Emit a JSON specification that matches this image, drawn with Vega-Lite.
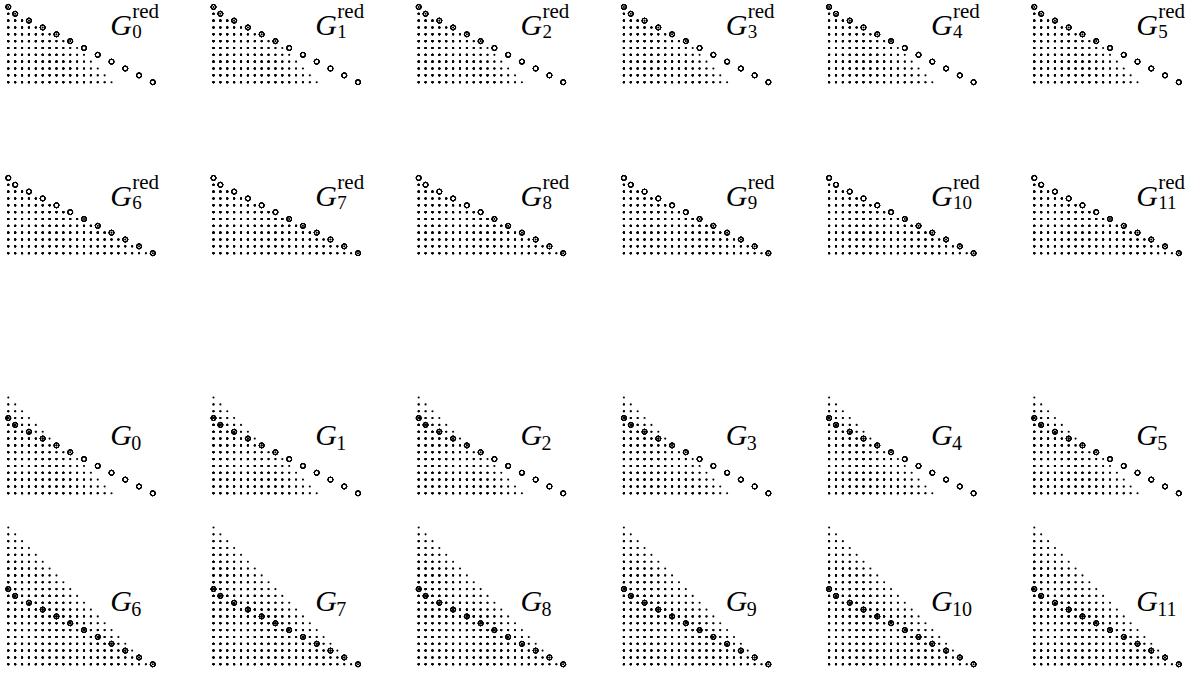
{
"$schema": "https://vega.github.io/schema/vega-lite/v6.json",
"padding": 0,
"background": "white",
"spacing": 0,
"datasets": {
"cols": [
{"n":0,"c":[0]},
{"n":1,"c":[0,1]},
{"n":2,"c":[0,1,2]},
{"n":3,"c":[0,1,2,3]},
{"n":4,"c":[0,1,2,3,4]},
{"n":5,"c":[0,1,2,3,4,5]},
{"n":6,"c":[0,1,2,3,4,5,6]},
{"n":7,"c":[0,1,2,3,4,5,6,7]},
{"n":8,"c":[0,1,2,3,4,5,6,7,8]},
{"n":9,"c":[0,1,2,3,4,5,6,7,8,9]},
{"n":10,"c":[0,1,2,3,4,5,6,7,8,9,10]},
{"n":11,"c":[0,1,2,3,4,5,6,7,8,9,10,11]},
{"n":12,"c":[0,1,2,3,4,5,6,7,8,9,10,11,12]},
{"n":13,"c":[0,1,2,3,4,5,6,7,8,9,10,11,12,13]},
{"n":14,"c":[0,1,2,3,4,5,6,7,8,9,10,11,12,13,14]},
{"n":15,"c":[0,1,2,3,4,5,6,7,8,9,10,11,12,13,14,15]},
{"n":16,"c":[0,1,2,3,4,5,6,7,8,9,10,11,12,13,14,15,16]},
{"n":17,"c":[0,1,2,3,4,5,6,7,8,9,10,11,12,13,14,15,16,17]},
{"n":18,"c":[0,1,2,3,4,5,6,7,8,9,10,11,12,13,14,15,16,17,18]},
{"n":19,"c":[0,1,2,3,4,5,6,7,8,9,10,11,12,13,14,15,16,17,18,19]},
{"n":20,"c":[0,1,2,3,4,5,6,7,8,9,10,11,12,13,14,15,16,17,18,19,20]},
{"n":21,"c":[0,1,2,3,4,5,6,7,8,9,10,11,12,13,14,15,16,17,18,19,20,21]}
]
},
"data": {"values": [
{"g":"R","k":0,"s":"0","h":[11,10,9,8,7,6,5,4,3,2,1,0],"n":[0,0,2,3,4,5,6,7,8,9,10,11],"cc":[0,1,3,5,7,9,11,13,15,17,19,21],"ch":[11,10,9,8,7,6,5,4,3,2,1,0]},
{"g":"R","k":1,"s":"1","h":[10,9,8,7,6,5,4,3,2,1,0],"n":[1,2,3,4,5,6,7,8,9,10,11],"cc":[0,1,3,5,7,9,11,13,15,17,19,21],"ch":[11,10,9,8,7,6,5,4,3,2,1,0]},
{"g":"R","k":2,"s":"2","h":[10,9,8,7,6,5,4,3,2,1,0],"n":[0,3,4,5,6,7,8,9,10,11,12],"cc":[0,1,3,5,7,9,11,13,15,17,19,21],"ch":[11,10,9,8,7,6,5,4,3,2,1,0]},
{"g":"R","k":3,"s":"3","h":[10,9,8,7,6,5,4,3,2,1,0],"n":[0,2,5,6,7,8,9,10,11,12,13],"cc":[0,1,3,5,7,9,11,13,15,17,19,21],"ch":[11,10,9,8,7,6,5,4,3,2,1,0]},
{"g":"R","k":4,"s":"4","h":[10,9,8,7,6,5,4,3,2,1,0],"n":[0,2,4,7,8,9,10,11,12,13,14],"cc":[0,1,3,5,7,9,11,13,15,17,19,21],"ch":[11,10,9,8,7,6,5,4,3,2,1,0]},
{"g":"R","k":5,"s":"5","h":[10,9,8,7,6,5,4,3,2,1,0],"n":[0,2,4,6,9,10,11,12,13,14,15],"cc":[0,1,3,5,7,9,11,13,15,17,19,21],"ch":[11,10,9,8,7,6,5,4,3,2,1,0]},
{"g":"R","k":6,"s":"6","h":[10,9,8,7,6,5,4,3,2,1,0],"n":[0,2,4,6,8,11,12,13,14,15,16],"cc":[0,1,3,5,7,9,11,13,15,17,19,21],"ch":[11,10,9,8,7,6,5,4,3,2,1,0]},
{"g":"R","k":7,"s":"7","h":[10,9,8,7,6,5,4,3,2,1,0],"n":[0,2,4,6,8,10,13,14,15,16,17],"cc":[0,1,3,5,7,9,11,13,15,17,19,21],"ch":[11,10,9,8,7,6,5,4,3,2,1,0]},
{"g":"R","k":8,"s":"8","h":[10,9,8,7,6,5,4,3,2,1,0],"n":[0,2,4,6,8,10,12,15,16,17,18],"cc":[0,1,3,5,7,9,11,13,15,17,19,21],"ch":[11,10,9,8,7,6,5,4,3,2,1,0]},
{"g":"R","k":9,"s":"9","h":[10,9,8,7,6,5,4,3,2,1,0],"n":[0,2,4,6,8,10,12,14,17,18,19],"cc":[0,1,3,5,7,9,11,13,15,17,19,21],"ch":[11,10,9,8,7,6,5,4,3,2,1,0]},
{"g":"R","k":10,"s":"10","h":[10,9,8,7,6,5,4,3,2,1,0],"n":[0,2,4,6,8,10,12,14,16,19,20],"cc":[0,1,3,5,7,9,11,13,15,17,19,21],"ch":[11,10,9,8,7,6,5,4,3,2,1,0]},
{"g":"R","k":11,"s":"11","h":[10,9,8,7,6,5,4,3,2,1,0],"n":[0,2,4,6,8,10,12,14,16,18,21],"cc":[0,1,3,5,7,9,11,13,15,17,19,21],"ch":[11,10,9,8,7,6,5,4,3,2,1,0]},
{"g":"G","k":0,"s":"0","h":[11,10,9,8,7,6,5,4,3,2,1,0],"n":[0,1,2,3,4,5,6,7,8,9,10,11],"cc":[0,1,3,5,7,9,11,13,15,17,19,21],"ch":[11,10,9,8,7,6,5,4,3,2,1,0]},
{"g":"G","k":1,"s":"1","h":[11,10,9,8,7,6,5,4,3,2,1,0],"n":[0,1,2,3,4,5,6,7,8,9,10,11],"cc":[0,1,3,5,7,9,11,13,15,17,19,21],"ch":[11,10,9,8,7,6,5,4,3,2,1,0]},
{"g":"G","k":2,"s":"2","h":[11,10,9,8,7,6,5,4,3,2,1,0],"n":[0,1,3,4,5,6,7,8,9,10,11,12],"cc":[0,1,3,5,7,9,11,13,15,17,19,21],"ch":[11,10,9,8,7,6,5,4,3,2,1,0]},
{"g":"G","k":3,"s":"3","h":[12,11,10,9,8,7,6,5,4,3,2,1,0],"n":[0,1,2,3,5,6,7,8,9,10,11,12,13],"cc":[0,1,3,5,7,9,11,13,15,17,19,21],"ch":[11,10,9,8,7,6,5,4,3,2,1,0]},
{"g":"G","k":4,"s":"4","h":[13,12,11,10,9,8,7,6,5,4,3,2,1,0],"n":[0,1,2,3,4,5,7,8,9,10,11,12,13,14],"cc":[0,1,3,5,7,9,11,13,15,17,19,21],"ch":[11,10,9,8,7,6,5,4,3,2,1,0]},
{"g":"G","k":5,"s":"5","h":[14,13,12,11,10,9,8,7,6,5,4,3,2,1,0],"n":[0,1,2,3,4,5,6,7,9,10,11,12,13,14,15],"cc":[0,1,3,5,7,9,11,13,15,17,19,21],"ch":[11,10,9,8,7,6,5,4,3,2,1,0]},
{"g":"G","k":6,"s":"6","h":[15,14,13,12,11,10,9,8,7,6,5,4,3,2,1,0],"n":[0,1,2,3,4,5,6,7,8,9,11,12,13,14,15,16],"cc":[0,1,3,5,7,9,11,13,15,17,19,21],"ch":[11,10,9,8,7,6,5,4,3,2,1,0]},
{"g":"G","k":7,"s":"7","h":[16,15,14,13,12,11,10,9,8,7,6,5,4,3,2,1,0],"n":[0,1,2,3,4,5,6,7,8,9,10,11,13,14,15,16,17],"cc":[0,1,3,5,7,9,11,13,15,17,19,21],"ch":[11,10,9,8,7,6,5,4,3,2,1,0]},
{"g":"G","k":8,"s":"8","h":[17,16,15,14,13,12,11,10,9,8,7,6,5,4,3,2,1,0],"n":[0,1,2,3,4,5,6,7,8,9,10,11,12,13,15,16,17,18],"cc":[0,1,3,5,7,9,11,13,15,17,19,21],"ch":[11,10,9,8,7,6,5,4,3,2,1,0]},
{"g":"G","k":9,"s":"9","h":[18,17,16,15,14,13,12,11,10,9,8,7,6,5,4,3,2,1,0],"n":[0,1,2,3,4,5,6,7,8,9,10,11,12,13,14,15,17,18,19],"cc":[0,1,3,5,7,9,11,13,15,17,19,21],"ch":[11,10,9,8,7,6,5,4,3,2,1,0]},
{"g":"G","k":10,"s":"10","h":[19,18,17,16,15,14,13,12,11,10,9,8,7,6,5,4,3,2,1,0],"n":[0,1,2,3,4,5,6,7,8,9,10,11,12,13,14,15,16,17,19,20],"cc":[0,1,3,5,7,9,11,13,15,17,19,21],"ch":[11,10,9,8,7,6,5,4,3,2,1,0]},
{"g":"G","k":11,"s":"11","h":[20,19,18,17,16,15,14,13,12,11,10,9,8,7,6,5,4,3,2,1,0],"n":[0,1,2,3,4,5,6,7,8,9,10,11,12,13,14,15,16,17,18,19,21],"cc":[0,1,3,5,7,9,11,13,15,17,19,21],"ch":[11,10,9,8,7,6,5,4,3,2,1,0]}
]},
"vconcat": [
{
"transform": [{"filter": "datum.g == 'R' && datum.k < 6"}],
"facet": {"column": {"field": "k", "type": "ordinal", "sort": "ascending", "header": {"labels": false, "title": null}}},
"spacing": 37.2,
"bounds": "flush",
"spec": {
"width": 168, "height": 170,
"layer": [
{"transform": [{"flatten": ["h","n"], "as": ["hh","nn"]}, {"lookup": "nn", "from": {"data": {"name": "cols"}, "key": "n", "fields": ["c"]}}, {"flatten": ["c"], "as": ["cx"]}],
"mark": {"type": "point", "shape": "circle", "filled": true, "size": 4.5, "color": "black", "opacity": 1},
"encoding": {"x": {"field": "cx", "type": "quantitative", "scale": {"domain": [-1.206, 23.21], "nice": false, "zero": false}, "axis": null}, "y": {"field": "hh", "type": "quantitative", "scale": {"domain": [-12.98, 11.87], "nice": false, "zero": false}, "axis": null}}},
{"transform": [{"flatten": ["cc","ch"], "as": ["cx","hh"]}],
"mark": {"type": "point", "shape": "circle", "filled": false, "size": 24, "stroke": "black", "strokeWidth": 0.9, "opacity": 1},
"encoding": {"x": {"field": "cx", "type": "quantitative", "axis": null}, "y": {"field": "hh", "type": "quantitative", "axis": null}}},
{"mark": {"type": "text", "text": "G", "font": "Liberation Serif", "fontStyle": "italic", "fontSize": 30, "align": "left", "baseline": "alphabetic", "color": "black"},
"encoding": {"x": {"datum": 14.8, "type": "quantitative", "axis": null}, "y": {"datum": 6.9, "type": "quantitative", "axis": null}}},
{"mark": {"type": "text", "text": "red", "font": "Liberation Serif", "fontSize": 21, "align": "left", "baseline": "alphabetic", "color": "black", "dx": 22, "dy": -17},
"encoding": {"x": {"datum": 14.8, "type": "quantitative", "axis": null}, "y": {"datum": 6.9, "type": "quantitative", "axis": null}}},
{"mark": {"type": "text", "font": "Liberation Serif", "fontSize": 19, "align": "left", "baseline": "alphabetic", "color": "black", "dx": 22, "dy": 3},
"encoding": {"x": {"datum": 14.8, "type": "quantitative", "axis": null}, "y": {"datum": 6.9, "type": "quantitative", "axis": null}, "text": {"field": "s"}}}
]
}
},
{
"transform": [{"filter": "datum.g == 'R' && datum.k >= 6"}],
"facet": {"column": {"field": "k", "type": "ordinal", "sort": "ascending", "header": {"labels": false, "title": null}}},
"spacing": 37.2,
"bounds": "flush",
"spec": {
"width": 168, "height": 170,
"layer": [
{"transform": [{"flatten": ["h","n"], "as": ["hh","nn"]}, {"lookup": "nn", "from": {"data": {"name": "cols"}, "key": "n", "fields": ["c"]}}, {"flatten": ["c"], "as": ["cx"]}],
"mark": {"type": "point", "shape": "circle", "filled": true, "size": 4.5, "color": "black", "opacity": 1},
"encoding": {"x": {"field": "cx", "type": "quantitative", "scale": {"domain": [-1.206, 23.21], "nice": false, "zero": false}, "axis": null}, "y": {"field": "hh", "type": "quantitative", "scale": {"domain": [-12.98, 11.87], "nice": false, "zero": false}, "axis": null}}},
{"transform": [{"flatten": ["cc","ch"], "as": ["cx","hh"]}],
"mark": {"type": "point", "shape": "circle", "filled": false, "size": 24, "stroke": "black", "strokeWidth": 0.9, "opacity": 1},
"encoding": {"x": {"field": "cx", "type": "quantitative", "axis": null}, "y": {"field": "hh", "type": "quantitative", "axis": null}}},
{"mark": {"type": "text", "text": "G", "font": "Liberation Serif", "fontStyle": "italic", "fontSize": 30, "align": "left", "baseline": "alphabetic", "color": "black"},
"encoding": {"x": {"datum": 14.8, "type": "quantitative", "axis": null}, "y": {"datum": 6.9, "type": "quantitative", "axis": null}}},
{"mark": {"type": "text", "text": "red", "font": "Liberation Serif", "fontSize": 21, "align": "left", "baseline": "alphabetic", "color": "black", "dx": 22, "dy": -17},
"encoding": {"x": {"datum": 14.8, "type": "quantitative", "axis": null}, "y": {"datum": 6.9, "type": "quantitative", "axis": null}}},
{"mark": {"type": "text", "font": "Liberation Serif", "fontSize": 19, "align": "left", "baseline": "alphabetic", "color": "black", "dx": 22, "dy": 3},
"encoding": {"x": {"datum": 14.8, "type": "quantitative", "axis": null}, "y": {"datum": 6.9, "type": "quantitative", "axis": null}, "text": {"field": "s"}}}
]
}
},
{
"transform": [{"filter": "datum.g == 'G' && datum.k < 6"}],
"facet": {"column": {"field": "k", "type": "ordinal", "sort": "ascending", "header": {"labels": false, "title": null}}},
"spacing": 37.2,
"bounds": "flush",
"spec": {
"width": 168, "height": 170,
"layer": [
{"transform": [{"flatten": ["h","n"], "as": ["hh","nn"]}, {"lookup": "nn", "from": {"data": {"name": "cols"}, "key": "n", "fields": ["c"]}}, {"flatten": ["c"], "as": ["cx"]}],
"mark": {"type": "point", "shape": "circle", "filled": true, "size": 4.5, "color": "black", "opacity": 1},
"encoding": {"x": {"field": "cx", "type": "quantitative", "scale": {"domain": [-1.206, 23.21], "nice": false, "zero": false}, "axis": null}, "y": {"field": "hh", "type": "quantitative", "scale": {"domain": [-2.734, 22.12], "nice": false, "zero": false}, "axis": null}}},
{"transform": [{"flatten": ["cc","ch"], "as": ["cx","hh"]}],
"mark": {"type": "point", "shape": "circle", "filled": false, "size": 24, "stroke": "black", "strokeWidth": 0.9, "opacity": 1},
"encoding": {"x": {"field": "cx", "type": "quantitative", "axis": null}, "y": {"field": "hh", "type": "quantitative", "axis": null}}},
{"mark": {"type": "text", "text": "G", "font": "Liberation Serif", "fontStyle": "italic", "fontSize": 30, "align": "left", "baseline": "alphabetic", "color": "black"},
"encoding": {"x": {"datum": 14.8, "type": "quantitative", "axis": null}, "y": {"datum": 7.1, "type": "quantitative", "axis": null}}},
{"mark": {"type": "text", "font": "Liberation Serif", "fontSize": 20, "align": "left", "baseline": "alphabetic", "color": "black", "dx": 21, "dy": 5},
"encoding": {"x": {"datum": 14.8, "type": "quantitative", "axis": null}, "y": {"datum": 7.1, "type": "quantitative", "axis": null}, "text": {"field": "s"}}}
]
}
},
{
"transform": [{"filter": "datum.g == 'G' && datum.k >= 6"}],
"facet": {"column": {"field": "k", "type": "ordinal", "sort": "ascending", "header": {"labels": false, "title": null}}},
"spacing": 37.2,
"bounds": "flush",
"spec": {
"width": 168, "height": 163,
"layer": [
{"transform": [{"flatten": ["h","n"], "as": ["hh","nn"]}, {"lookup": "nn", "from": {"data": {"name": "cols"}, "key": "n", "fields": ["c"]}}, {"flatten": ["c"], "as": ["cx"]}],
"mark": {"type": "point", "shape": "circle", "filled": true, "size": 4.5, "color": "black", "opacity": 1},
"encoding": {"x": {"field": "cx", "type": "quantitative", "scale": {"domain": [-1.206, 23.21], "nice": false, "zero": false}, "axis": null}, "y": {"field": "hh", "type": "quantitative", "scale": {"domain": [-1.564, 22.267], "nice": false, "zero": false}, "axis": null}}},
{"transform": [{"flatten": ["cc","ch"], "as": ["cx","hh"]}],
"mark": {"type": "point", "shape": "circle", "filled": false, "size": 24, "stroke": "black", "strokeWidth": 0.9, "opacity": 1},
"encoding": {"x": {"field": "cx", "type": "quantitative", "axis": null}, "y": {"field": "hh", "type": "quantitative", "axis": null}}},
{"mark": {"type": "text", "text": "G", "font": "Liberation Serif", "fontStyle": "italic", "fontSize": 30, "align": "left", "baseline": "alphabetic", "color": "black"},
"encoding": {"x": {"datum": 14.8, "type": "quantitative", "axis": null}, "y": {"datum": 7.8, "type": "quantitative", "axis": null}}},
{"mark": {"type": "text", "font": "Liberation Serif", "fontSize": 20, "align": "left", "baseline": "alphabetic", "color": "black", "dx": 21, "dy": 5},
"encoding": {"x": {"datum": 14.8, "type": "quantitative", "axis": null}, "y": {"datum": 7.8, "type": "quantitative", "axis": null}, "text": {"field": "s"}}}
]
}
}
],
"resolve": {"scale": {"x": "independent", "y": "independent"}},
"config": {"view": {"stroke": null}}
}
